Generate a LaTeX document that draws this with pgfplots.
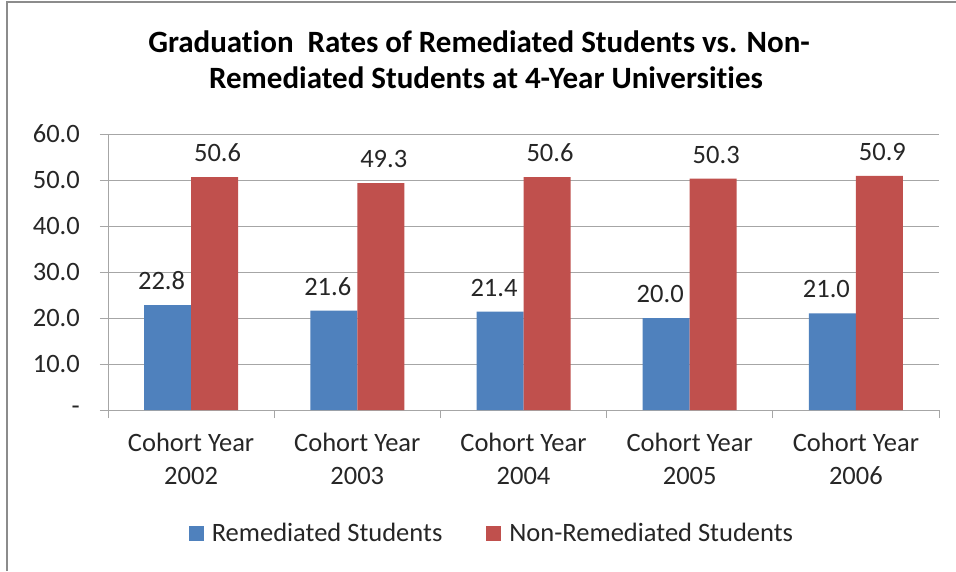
\documentclass[border=0pt]{standalone}
\usepackage{pgfplots}
\pgfplotsset{compat=1.18}
\usepackage{fontspec}
\setmainfont{Carlito}[Ligatures=NoCommon]
\definecolor{exblue}{HTML}{4F81BD}
\definecolor{exred}{HTML}{C0504D}
\definecolor{gridgray}{HTML}{A6A6A6}
\definecolor{framegray}{HTML}{8C8C8C}
\definecolor{txt}{HTML}{262626}
\begin{document}
\begin{tikzpicture}
\useasboundingbox (0,0) rectangle (956pt,571pt);
\fill[white] (0,0) rectangle (956pt,571pt);
\draw[framegray, line width=2pt] (7pt,0) -- (7pt,569pt) -- (956pt,569pt);
\node[anchor=base, inner sep=0pt, font=\fontsize{31}{36}\selectfont\bfseries] at (479pt,518pt) {Graduation\ \ Rates of Remediated Students vs. Non-};
\node[anchor=base, inner sep=0pt, font=\fontsize{31}{36}\selectfont\bfseries] at (486pt,482pt) {Remediated Students at 4-Year Universities};
\begin{axis}[
  at={(108pt,161pt)}, anchor=south west,
  scale only axis, width=831pt, height=276pt,
  ybar=0pt, bar width=47pt,
  legend image code/.code={\fill[#1] (0pt,-7.5pt) rectangle (15pt,7.5pt); \path (21pt,0pt);},
  xmin=0.5, xmax=5.5, ymin=0, ymax=60,
  xtick={1,2,3,4,5},
  xticklabels={{Cohort Year\\2002},{Cohort Year\\2003},{Cohort Year\\2004},{Cohort Year\\2005},{Cohort Year\\2006}},
  minor xtick={0.5,1.5,2.5,3.5,4.5,5.5},
  ytick={0,10,20,30,40,50,60},
  yticklabels={-,10.0,20.0,30.0,40.0,50.0,60.0},
  axis x line*=bottom, axis y line*=left,
  tick align=outside, major tick length=8pt, minor tick length=8pt,
  major x tick style={draw=none},
  ymajorgrids, grid style={gridgray, line width=1pt},
  axis line style={gridgray, line width=1pt},
  tick style={gridgray, line width=1pt},
  ticklabel style={font=\fontsize{26.5}{33}\selectfont, text=txt, inner sep=0pt},
  xticklabel style={align=center, yshift=-15pt},
  yticklabel style={xshift=-20pt},
  clip=false,
  nodes near coords={\pgfmathprintnumber[fixed,fixed zerofill,precision=1,assume math mode=true]{\pgfplotspointmeta}},
  nodes near coords style={font=\fontsize{26.5}{33}\selectfont, text=txt, inner sep=0pt, yshift=15pt},
  legend style={at={(0.462,-0.4457)}, anchor=center, draw=none, fill=none,
    legend columns=2, font=\fontsize{26.5}{33}\selectfont, text=txt,
    /tikz/every even column/.append style={column sep=42pt}},
  legend cell align=left,
]
\addplot[fill=exblue, draw=none, every node near coord/.append style={xshift=-6pt}]
  coordinates {(1,22.8) (2,21.6) (3,21.4) (4,20.0) (5,21.0)};
\addplot[fill=exred, draw=none, every node near coord/.append style={xshift=3pt}]
  coordinates {(1,50.6) (2,49.3) (3,50.6) (4,50.3) (5,50.9)};
\legend{Remediated Students, Non-Remediated Students}
\end{axis}
\end{tikzpicture}
\end{document}
